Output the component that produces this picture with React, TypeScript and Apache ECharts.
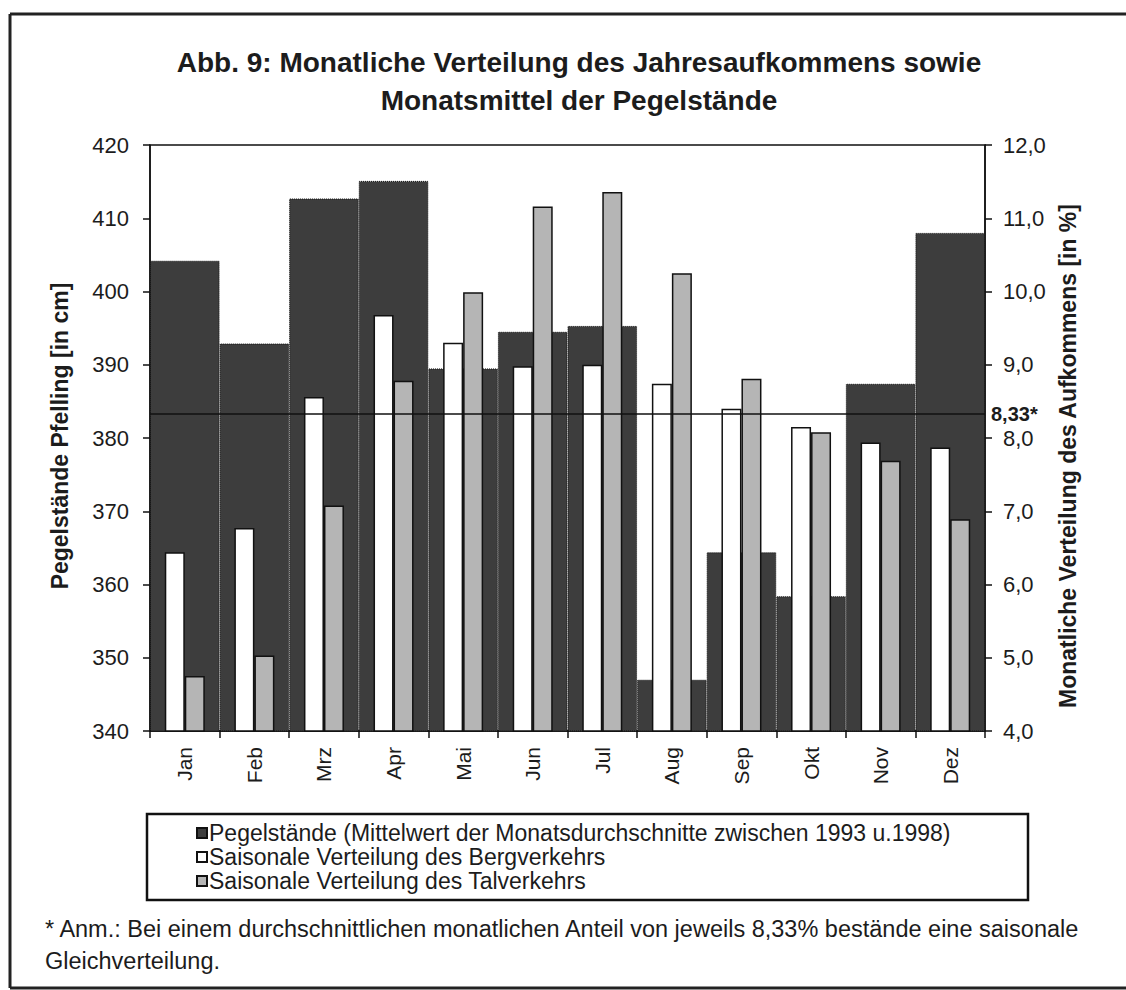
import React, { useEffect, useRef } from "react";
import * as echarts from "echarts";

const months = ["Jan", "Feb", "Mrz", "Apr", "Mai", "Jun", "Jul", "Aug", "Sep", "Okt", "Nov", "Dez"];
const pegel = [404.2, 392.9, 412.7, 415.1, 389.5, 394.5, 395.3, 347.0, 364.4, 358.4, 387.4, 408.0];
const berg = [6.44, 6.77, 8.56, 9.68, 9.3, 8.98, 9.0, 8.74, 8.4, 8.15, 7.94, 7.87];
const tal = [4.75, 5.03, 7.08, 8.78, 9.99, 11.16, 11.36, 10.25, 8.81, 8.08, 7.69, 6.89];
const leftTicks = { min: 340, max: 420, interval: 10 };
const rightTicks = { min: 4, max: 12, interval: 1 };
const meanShare = 8.33;

const seriesNames = [
  "Pegelstände (Mittelwert der Monatsdurchschnitte zwischen 1993 u.1998)",
  "Saisonale Verteilung des Bergverkehrs",
  "Saisonale Verteilung des Talverkehrs",
];

const FONT = "'Liberation Sans', Arial, Helvetica, sans-serif";
const INK = "#1c1c1c";

export default function App() {
  const ref = useRef<HTMLDivElement>(null);
  useEffect(() => {
    if (!ref.current) return;
    const chart = echarts.init(ref.current, undefined, { renderer: "svg" });
    const comma = (v: number) => v.toFixed(1).replace(".", ",");
    chart.setOption({
      animation: false,
      backgroundColor: "#ffffff",
      textStyle: { fontFamily: FONT, color: INK },
      title: {
        text: "Abb. 9: Monatliche Verteilung des Jahresaufkommens sowie\nMonatsmittel der Pegelstände",
        left: 574,
        top: 38,
        textAlign: "center",
        textStyle: { fontFamily: FONT, fontSize: 28, fontWeight: "bold", color: INK, lineHeight: 38 },
      },
      legend: {
        orient: "vertical",
        left: 196,
        top: 821,
        itemWidth: 10,
        itemHeight: 10,
        itemGap: 0,
        padding: 0,
        icon: "rect",
        textStyle: { fontFamily: FONT, fontSize: 23, color: INK, lineHeight: 24, padding: [0, 0, 0, -3] },
        data: seriesNames,
      },
      grid: {
        left: 150,
        right: 141,
        top: 145,
        bottom: 259,
        show: true,
        borderColor: "#111",
        borderWidth: 1.5,
        backgroundColor: "transparent",
      },
      xAxis: [
        {
          type: "category",
          data: months,
          boundaryGap: true,
          axisLine: { lineStyle: { color: "#111", width: 1.5 } },
          axisTick: { show: true, interval: 0, length: 7, lineStyle: { color: "#111", width: 1.5 } },
          axisLabel: { interval: 0, rotate: 90, margin: 16, fontSize: 21, color: INK, fontFamily: FONT },
          splitLine: { show: false },
        },
        {
          type: "category",
          data: months,
          show: false,
          position: "bottom",
        },
      ],
      yAxis: [
        {
          type: "value",
          position: "left",
          min: leftTicks.min,
          max: leftTicks.max,
          interval: leftTicks.interval,
          axisLine: { show: true, lineStyle: { color: "#111", width: 1.5 } },
          axisTick: { show: true, length: 7, lineStyle: { color: "#111", width: 1.5 } },
          axisLabel: { margin: 21, fontSize: 22, color: INK, fontFamily: FONT },
          splitLine: { show: false },
        },
        {
          type: "value",
          position: "right",
          min: rightTicks.min,
          max: rightTicks.max,
          interval: rightTicks.interval,
          axisLine: { show: true, lineStyle: { color: "#111", width: 1.5 } },
          axisTick: { show: true, length: 7, lineStyle: { color: "#111", width: 1.5 } },
          axisLabel: { margin: 18, fontSize: 22, color: INK, fontFamily: FONT, formatter: comma },
          splitLine: { show: false },
        },
      ],
      series: [
        {
          name: seriesNames[0],
          type: "bar",
          xAxisIndex: 0,
          yAxisIndex: 0,
          data: pegel,
          barWidth: "100%",
          barCategoryGap: "0%",
          itemStyle: { color: "#3d3d3d", borderColor: "#111", borderWidth: 1, borderType: "dotted" },
        },
        {
          name: seriesNames[1],
          type: "bar",
          xAxisIndex: 1,
          yAxisIndex: 1,
          data: berg,
          barWidth: 20,
          barGap: "0%",
          itemStyle: { color: "#ffffff", borderColor: "#111", borderWidth: 1.5 },
        },
        {
          name: seriesNames[2],
          type: "bar",
          xAxisIndex: 1,
          yAxisIndex: 1,
          data: tal,
          barWidth: 20,
          barGap: "0%",
          itemStyle: { color: "#b5b5b5", borderColor: "#111", borderWidth: 1.5 },
          markLine: {
            silent: true,
            symbol: "none",
            lineStyle: { color: "#111", width: 1.5, type: "solid" },
            label: {
              show: true,
              position: "end",
              distance: 6,
              formatter: "8,33*",
              fontFamily: FONT,
              fontSize: 20,
              fontWeight: "bold",
              color: INK,
            },
            data: [{ yAxis: meanShare }],
          },
        },
      ],
      graphic: [
        { type: "line", shape: { x1: 10, y1: 14, x2: 1126, y2: 14 }, style: { stroke: "#222", lineWidth: 3 } },
        { type: "line", shape: { x1: 10, y1: 14, x2: 10, y2: 988 }, style: { stroke: "#222", lineWidth: 3 } },
        { type: "line", shape: { x1: 10, y1: 988, x2: 1126, y2: 988 }, style: { stroke: "#222", lineWidth: 3 } },
        {
          type: "rect",
          shape: { x: 147, y: 814, width: 881, height: 86 },
          style: { fill: "none", stroke: "#111", lineWidth: 2.5 },
          z: 10,
        },
        {
          type: "text",
          x: 60,
          y: 436,
          rotation: Math.PI / 2,
          style: {
            text: "Pegelstände Pfelling [in cm]",
            fontFamily: FONT,
            fontSize: 23,
            fontWeight: "bold",
            fill: INK,
            align: "center",
            verticalAlign: "middle",
          },
        },
        {
          type: "text",
          x: 1068,
          y: 456,
          rotation: Math.PI / 2,
          style: {
            text: "Monatliche Verteilung des Aufkommens [in %]",
            fontFamily: FONT,
            fontSize: 23,
            fontWeight: "bold",
            fill: INK,
            align: "center",
            verticalAlign: "middle",
          },
        },
        {
          type: "text",
          x: 45,
          y: 929,
          style: {
            text: "* Anm.: Bei einem durchschnittlichen monatlichen Anteil von jeweils 8,33% bestände eine saisonale",
            fontFamily: FONT,
            fontSize: 23.5,
            fill: INK,
            align: "left",
            verticalAlign: "middle",
          },
        },
        {
          type: "text",
          x: 45,
          y: 961,
          style: {
            text: "Gleichverteilung.",
            fontFamily: FONT,
            fontSize: 23.5,
            fill: INK,
            align: "left",
            verticalAlign: "middle",
          },
        },
      ],
    });
    return () => chart.dispose();
  }, []);
  return (
    <div
      ref={ref}
      style={{ position: "absolute", left: 0, top: 0, width: 1126, height: 990, background: "#fff" }}
    />
  );
}
